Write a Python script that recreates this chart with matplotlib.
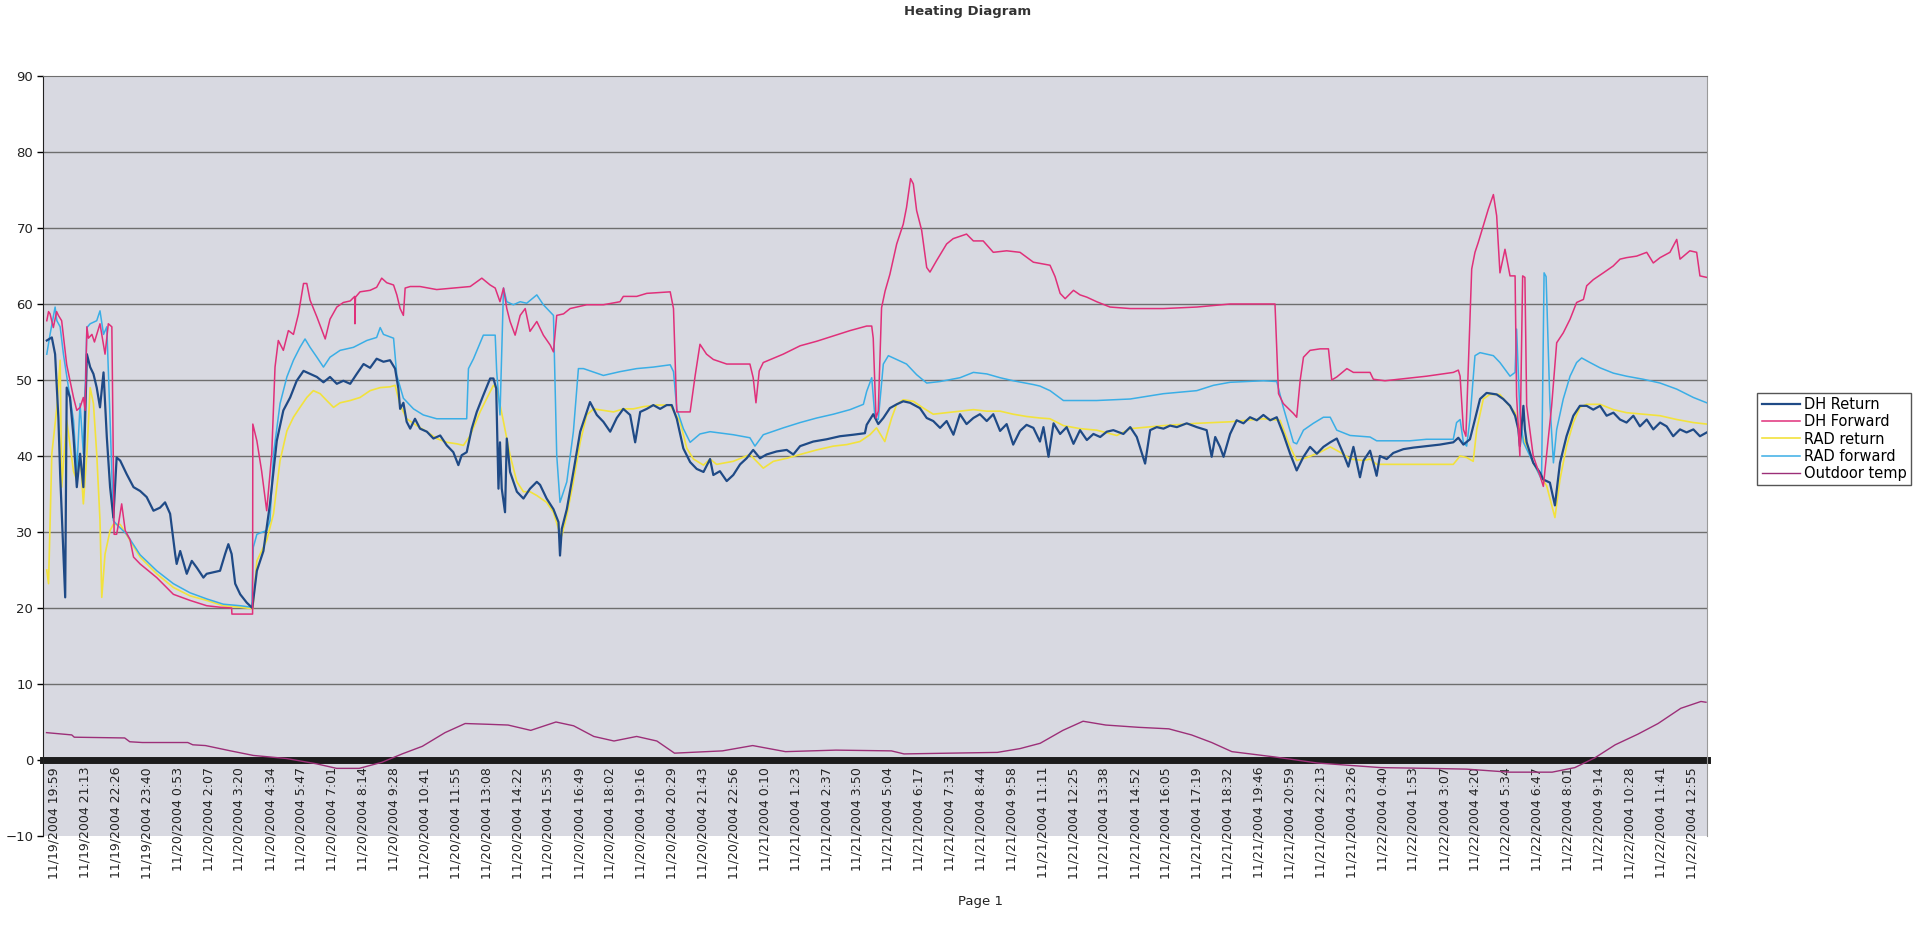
import numpy as np
import pandas as pd
import matplotlib
matplotlib.use("Agg")
import matplotlib.pyplot as plt

# category labels of the time axis (one every 73.5 min)
tick_labels = [
    "11/19/2004 19:59", "11/19/2004 21:13", "11/19/2004 22:26", "11/19/2004 23:40",
    "11/20/2004 0:53", "11/20/2004 2:07", "11/20/2004 3:20", "11/20/2004 4:34",
    "11/20/2004 5:47", "11/20/2004 7:01", "11/20/2004 8:14", "11/20/2004 9:28",
    "11/20/2004 10:41", "11/20/2004 11:55", "11/20/2004 13:08", "11/20/2004 14:22",
    "11/20/2004 15:35", "11/20/2004 16:49", "11/20/2004 18:02", "11/20/2004 19:16",
    "11/20/2004 20:29", "11/20/2004 21:43", "11/20/2004 22:56", "11/21/2004 0:10",
    "11/21/2004 1:23", "11/21/2004 2:37", "11/21/2004 3:50", "11/21/2004 5:04",
    "11/21/2004 6:17", "11/21/2004 7:31", "11/21/2004 8:44", "11/21/2004 9:58",
    "11/21/2004 11:11", "11/21/2004 12:25", "11/21/2004 13:38", "11/21/2004 14:52",
    "11/21/2004 16:05", "11/21/2004 17:19", "11/21/2004 18:32", "11/21/2004 19:46",
    "11/21/2004 20:59", "11/21/2004 22:13", "11/21/2004 23:26", "11/22/2004 0:40",
    "11/22/2004 1:53", "11/22/2004 3:07", "11/22/2004 4:20", "11/22/2004 5:34",
    "11/22/2004 6:47", "11/22/2004 8:01", "11/22/2004 9:14", "11/22/2004 10:28",
    "11/22/2004 11:41", "11/22/2004 12:55",
]

# (hours since 11/19/2004 19:59, temperature)
dh_return = [
    (-0.29, 55.2), (-0.09, 55.6), (0.04, 53.4), (0.17, 45), (0.24, 37.6), (0.44, 21.4), (0.50, 49),
    (0.63, 47.7), (0.77, 42.5), (0.90, 35.9), (1.03, 40.3), (1.16, 35.9), (1.30, 53.4), (1.43, 51.7),
    (1.56, 50.8), (1.69, 49), (1.82, 46.4), (1.96, 51), (2.09, 42.5), (2.22, 35.9), (2.35, 31.9),
    (2.48, 39.8), (2.62, 39.4), (2.88, 37.6), (3.15, 35.9), (3.41, 35.4), (3.67, 34.6), (3.94, 32.8),
    (4.20, 33.2), (4.40, 33.9), (4.60, 32.4), (4.80, 27.1), (4.86, 25.8), (5.00, 27.5), (5.26, 24.5),
    (5.46, 26.2), (5.66, 25.3), (5.92, 24), (6.05, 24.5), (6.32, 24.7), (6.58, 24.9), (6.78, 27.1),
    (6.91, 28.4), (7.04, 27.1), (7.18, 23.2), (7.38, 21.8), (7.64, 20.7), (7.86, 20), (8.04, 24.9),
    (8.30, 27.5), (8.56, 33.7), (8.83, 42), (9.09, 46), (9.36, 47.7), (9.62, 49.9), (9.89, 51.2),
    (10.15, 50.8), (10.42, 50.4), (10.68, 49.7), (10.94, 50.4), (11.21, 49.5), (11.47, 49.9),
    (11.74, 49.5), (12.00, 50.8), (12.27, 52.1), (12.53, 51.6), (12.79, 52.8), (12.93, 52.6),
    (13.06, 52.4), (13.32, 52.6), (13.52, 51.5), (13.65, 48.9), (13.72, 46.2), (13.85, 47),
    (13.98, 44.5), (14.12, 43.6), (14.31, 44.9), (14.51, 43.6), (14.78, 43.2), (15.04, 42.3),
    (15.31, 42.7), (15.57, 41.4), (15.83, 40.5), (16.03, 38.8), (16.16, 40.1), (16.36, 40.5),
    (16.56, 43.6), (16.76, 45.8), (17.02, 48), (17.29, 50.2), (17.42, 50.2), (17.53, 48.9),
    (17.62, 35.7), (17.68, 41.8), (17.75, 35.7), (17.88, 32.6), (17.95, 42.3), (18.08, 37.9),
    (18.35, 35.3), (18.61, 34.4), (18.87, 35.7), (19.14, 36.6), (19.27, 36.2), (19.53, 34.4),
    (19.80, 33), (20.00, 31.3), (20.06, 26.9), (20.13, 30.4), (20.33, 33), (20.59, 37.9),
    (20.86, 43.2), (21.12, 45.8), (21.25, 47.1), (21.52, 45.4), (21.78, 44.5), (22.05, 43.2),
    (22.31, 45), (22.57, 46.2), (22.84, 45.4), (23.04, 41.8), (23.24, 45.8), (23.50, 46.2),
    (23.76, 46.7), (24.03, 46.2), (24.29, 46.7), (24.49, 46.7), (24.69, 44.9), (24.95, 41),
    (25.22, 39.2), (25.48, 38.3), (25.75, 37.9), (26.01, 39.6), (26.14, 37.5), (26.40, 38),
    (26.67, 36.7), (26.93, 37.5), (27.20, 38.9), (27.46, 39.7), (27.72, 40.8), (27.99, 39.7),
    (28.25, 40.2), (28.65, 40.6), (29.05, 40.8), (29.31, 40.2), (29.58, 41.3), (30.10, 41.9),
    (30.63, 42.2), (31.16, 42.6), (31.69, 42.8), (32.15, 43), (32.22, 44.1), (32.48, 45.5),
    (32.68, 44.2), (32.88, 45), (33.14, 46.3), (33.41, 46.8), (33.67, 47.2), (33.94, 47),
    (34.33, 46.3), (34.60, 45), (34.86, 44.6), (35.13, 43.7), (35.39, 44.6), (35.66, 42.8),
    (35.92, 45.5), (36.18, 44.2), (36.45, 45), (36.71, 45.5), (36.98, 44.6), (37.24, 45.5),
    (37.51, 43.3), (37.77, 44.2), (38.03, 41.5), (38.30, 43.3), (38.56, 44.1), (38.83, 43.7),
    (39.09, 41.9), (39.23, 43.8), (39.43, 39.9), (39.63, 44.3), (39.89, 42.9), (40.15, 43.8),
    (40.42, 41.6), (40.68, 43.4), (40.95, 42.1), (41.21, 42.9), (41.48, 42.5), (41.74, 43.2),
    (42.00, 43.4), (42.40, 42.9), (42.67, 43.8), (42.93, 42.5), (43.26, 39), (43.46, 43.4),
    (43.72, 43.8), (43.99, 43.6), (44.25, 44), (44.52, 43.8), (44.91, 44.3), (45.31, 43.8),
    (45.70, 43.4), (45.90, 39.9), (46.04, 42.5), (46.23, 41.2), (46.37, 39.9), (46.63, 42.9),
    (46.89, 44.7), (47.16, 44.3), (47.42, 45.1), (47.69, 44.7), (47.95, 45.4), (48.22, 44.7),
    (48.48, 45.1), (48.74, 42.9), (49.01, 40.3), (49.27, 38.1), (49.54, 39.9), (49.80, 41.2),
    (50.07, 40.3), (50.33, 41.2), (50.60, 41.8), (50.86, 42.3), (51.12, 40.3), (51.32, 38.6),
    (51.52, 41.2), (51.78, 37.2), (51.92, 39.4), (52.18, 40.7), (52.31, 39.1), (52.44, 37.4),
    (52.57, 40), (52.84, 39.6), (53.10, 40.4), (53.50, 40.9), (53.89, 41.1), (54.42, 41.3),
    (54.95, 41.5), (55.48, 41.8), (55.68, 42.4), (55.88, 41.5), (56.14, 42.2), (56.27, 43.9),
    (56.54, 47.5), (56.80, 48.3), (57.20, 48.1), (57.46, 47.5), (57.73, 46.6), (57.93, 45.3),
    (58.06, 43.5), (58.12, 41.3), (58.26, 46.6), (58.32, 43.5), (58.39, 41.8), (58.65, 39.1),
    (58.92, 37.8), (59.05, 36.9), (59.31, 36.5), (59.51, 33.5), (59.71, 39.1), (59.97, 42.6),
    (60.24, 45.3), (60.50, 46.6), (60.77, 46.6), (61.03, 46.1), (61.30, 46.6), (61.56, 45.3),
    (61.83, 45.7), (62.09, 44.8), (62.35, 44.4), (62.62, 45.3), (62.88, 43.9), (63.15, 44.8),
    (63.41, 43.5), (63.68, 44.4), (63.94, 43.9), (64.20, 42.6), (64.47, 43.5), (64.73, 43.1),
    (65.00, 43.5), (65.26, 42.6), (65.53, 43.1),
]

dh_forward = [
    (-0.29, 57.8), (-0.22, 59), (-0.16, 58.7), (-0.03, 56.9), (0.1, 59), (0.17, 58.5), (0.30, 57.8),
    (0.5, 52), (0.77, 47.7), (0.90, 46), (1.03, 46.4), (1.16, 47.7), (1.23, 46), (1.30, 57),
    (1.36, 55.5), (1.5, 56), (1.6, 55), (1.82, 57.4), (1.89, 56), (2.02, 53.4), (2.15, 57.4),
    (2.29, 57), (2.38, 29.7), (2.48, 29.7), (2.55, 31), (2.68, 33.7), (2.82, 30.2), (3.01, 29),
    (3.15, 26.7), (3.41, 25.8), (4.07, 24), (4.73, 21.8), (5.39, 21), (6.05, 20.3), (6.58, 20.1),
    (7.04, 20), (7.05, 19.2), (7.87, 19.2), (7.88, 44.2), (8.04, 42), (8.23, 38), (8.43, 32.8),
    (8.63, 40.3), (8.76, 51.7), (8.89, 55.2), (9.09, 53.9), (9.29, 56.5), (9.49, 56), (9.69, 58.7),
    (9.89, 62.7), (10.02, 62.7), (10.15, 60.5), (10.42, 58.3), (10.75, 55.4), (10.94, 58),
    (11.21, 59.6), (11.47, 60.2), (11.74, 60.4), (11.92, 61), (11.93, 57.4), (11.95, 60.9),
    (12.13, 61.6), (12.53, 61.8), (12.79, 62.2), (12.99, 63.4), (13.19, 62.8), (13.46, 62.5),
    (13.59, 61.2), (13.72, 59.4), (13.85, 58.5), (13.92, 62.1), (14.12, 62.3), (14.51, 62.3),
    (15.17, 61.9), (15.83, 62.1), (16.50, 62.3), (16.96, 63.4), (17.29, 62.5), (17.49, 62.1),
    (17.68, 60.3), (17.82, 62.1), (17.95, 59.4), (18.08, 57.7), (18.28, 55.9), (18.48, 58.5),
    (18.68, 59.4), (18.87, 56.4), (19.14, 57.7), (19.40, 55.9), (19.67, 54.6), (19.80, 53.7),
    (19.93, 58.5), (20.20, 58.7), (20.46, 59.4), (21.12, 59.9), (21.78, 59.9), (22.44, 60.3),
    (22.57, 61), (23.10, 61), (23.50, 61.4), (24.43, 61.6), (24.56, 59.4), (24.69, 45.8),
    (25.22, 45.8), (25.42, 50.6), (25.61, 54.7), (25.87, 53.4), (26.14, 52.7), (26.67, 52.1),
    (27.59, 52.1), (27.72, 50.3), (27.83, 47), (27.96, 51.2), (28.12, 52.3), (28.91, 53.4),
    (29.58, 54.5), (30.24, 55.1), (30.90, 55.8), (31.56, 56.5), (32.22, 57.1), (32.42, 57.1),
    (32.48, 55.5), (32.59, 45), (32.68, 45.9), (32.81, 59.5), (32.95, 61.7), (33.14, 63.9),
    (33.41, 67.9), (33.67, 70.5), (33.80, 72.7), (33.96, 76.5), (34.07, 75.8), (34.20, 72.3),
    (34.40, 69.7), (34.60, 64.8), (34.73, 64.2), (34.99, 65.7), (35.39, 67.9), (35.65, 68.6),
    (36.18, 69.2), (36.45, 68.3), (36.84, 68.3), (37.24, 66.8), (37.77, 67), (38.30, 66.8),
    (38.83, 65.5), (39.49, 65.1), (39.69, 63.6), (39.89, 61.4), (40.09, 60.7), (40.42, 61.8),
    (40.68, 61.2), (40.95, 60.9), (41.34, 60.3), (41.87, 59.6), (42.67, 59.4), (43.99, 59.4),
    (45.31, 59.6), (46.63, 60), (48.41, 60), (48.55, 48.2), (48.74, 46.9), (49.14, 45.6),
    (49.27, 45.1), (49.41, 50), (49.54, 53), (49.80, 53.9), (50.20, 54.1), (50.53, 54.1),
    (50.66, 50), (50.86, 50.4), (51.26, 51.5), (51.52, 51), (52.18, 51), (52.31, 50.1),
    (52.77, 49.9), (53.89, 50.3), (54.42, 50.5), (55.48, 51), (55.68, 51.3), (55.75, 50.5),
    (55.88, 43.5), (55.98, 42.6), (56.08, 52.3), (56.21, 64.6), (56.34, 66.8), (56.47, 68.1),
    (56.67, 70.3), (56.87, 72.5), (57.07, 74.4), (57.20, 71.6), (57.33, 64.1), (57.53, 67.2),
    (57.73, 63.7), (57.93, 63.7), (57.99, 47.9), (58.12, 40), (58.23, 63.7), (58.32, 63.5),
    (58.39, 46.6), (58.65, 40), (58.92, 37.4), (59.05, 36), (59.38, 46.6), (59.58, 54.9),
    (59.84, 56.2), (60.11, 58), (60.37, 60.2), (60.64, 60.6), (60.77, 62.4), (61.03, 63.2),
    (61.43, 64.1), (61.82, 65), (62.09, 65.9), (62.35, 66.1), (62.75, 66.3), (63.15, 66.8),
    (63.41, 65.4), (63.68, 66.1), (64.07, 66.8), (64.34, 68.5), (64.47, 65.9), (64.86, 67),
    (65.13, 66.8), (65.26, 63.7), (65.53, 63.5),
]

rad_return = [
    (-0.29, 25), (-0.22, 23.2), (-0.09, 40.3), (0.11, 46.4), (0.24, 52.6), (0.30, 35.9), (0.50, 44.7),
    (0.77, 38), (0.90, 36.8), (1.03, 40.3), (1.16, 33.7), (1.30, 40.3), (1.43, 49), (1.56, 46.9),
    (1.69, 40.3), (1.82, 31.5), (1.89, 21.4), (2.02, 27.1), (2.22, 30.2), (2.35, 31), (2.62, 31),
    (3.41, 26.7), (4.07, 24.5), (4.73, 22.7), (5.39, 21.6), (6.05, 21), (6.71, 20.3), (7.38, 20.1),
    (7.88, 19.9), (8.04, 26.2), (8.43, 28.9), (8.70, 32.4), (8.96, 39.4), (9.23, 43.3), (9.49, 45.1),
    (9.75, 46.4), (10.02, 47.7), (10.28, 48.6), (10.55, 48.2), (10.81, 47.3), (11.08, 46.4),
    (11.34, 47), (11.74, 47.3), (12.13, 47.7), (12.53, 48.6), (12.93, 49), (13.32, 49.1),
    (13.52, 49.3), (13.72, 46.7), (13.98, 44.9), (14.38, 44), (14.78, 43.2), (15.17, 42.3),
    (15.57, 41.8), (15.97, 41.6), (16.23, 41.4), (16.50, 42.7), (16.89, 45.8), (17.16, 47.6),
    (17.42, 49.3), (17.55, 48.9), (17.82, 44.5), (18.08, 40.1), (18.35, 36.6), (18.61, 35.3),
    (18.87, 35.3), (19.14, 34.8), (19.53, 33.9), (19.80, 32.6), (20.00, 30.4), (20.13, 29.5),
    (20.33, 32.2), (20.59, 36.6), (20.86, 41.8), (21.12, 45.4), (21.39, 46.2), (21.78, 46),
    (22.18, 45.8), (22.57, 46.2), (22.97, 46.2), (23.37, 46.5), (23.90, 46.7), (24.43, 46.7),
    (24.82, 44.5), (25.09, 41), (25.35, 39.6), (25.75, 38.8), (26.01, 39.6), (26.27, 38.9),
    (26.93, 39.3), (27.59, 40.2), (28.12, 38.4), (28.52, 39.3), (29.05, 39.7), (29.58, 40.2),
    (30.24, 40.8), (30.90, 41.3), (31.43, 41.5), (31.95, 41.9), (32.35, 42.8), (32.61, 43.7),
    (32.94, 41.9), (33.21, 45), (33.41, 46.8), (33.67, 47.4), (34.07, 47.2), (34.47, 46.3),
    (34.86, 45.5), (35.39, 45.7), (35.92, 45.9), (36.45, 46.1), (36.98, 45.9), (37.51, 45.9),
    (38.03, 45.5), (38.56, 45.2), (39.09, 45), (39.49, 44.9), (40.02, 44), (40.68, 43.6),
    (41.34, 43.4), (42.14, 42.7), (42.67, 43.6), (43.99, 44), (45.31, 44.3), (46.63, 44.5),
    (47.95, 44.9), (48.61, 44.7), (49.01, 41.2), (49.27, 39.4), (49.67, 39.8), (50.20, 40.5),
    (50.60, 41.2), (50.99, 40.5), (51.39, 39.6), (51.92, 39.4), (52.18, 39.6), (52.44, 38.9),
    (53.10, 38.9), (54.42, 38.9), (55.48, 38.9), (55.75, 40), (56.01, 39.8), (56.27, 39.3),
    (56.41, 43.5), (56.67, 47.5), (56.93, 48.1), (57.33, 48.1), (57.60, 47), (57.93, 45.7),
    (58.12, 43.5), (58.39, 41.3), (58.65, 39.1), (58.92, 37.4), (59.18, 36.1), (59.51, 31.9),
    (59.71, 36.9), (59.97, 41.3), (60.24, 44.4), (60.50, 46.4), (60.77, 46.8), (61.30, 46.8),
    (61.83, 46.1), (62.35, 45.7), (63.01, 45.5), (63.68, 45.3), (64.34, 44.8), (65.00, 44.4),
    (65.53, 44.2),
]

rad_forward = [
    (-0.29, 53.4), (-0.16, 56), (0.04, 59.6), (0.11, 57.8), (0.24, 57), (0.37, 53.4), (0.57, 49),
    (0.77, 44.7), (0.90, 38), (1.03, 46.9), (1.16, 40.3), (1.30, 56.9), (1.43, 57.4), (1.69, 57.8),
    (1.82, 59.1), (1.96, 56), (2.09, 57), (2.22, 44.7), (2.35, 31.5), (2.48, 31), (2.88, 29.7),
    (3.41, 27), (4.07, 24.9), (4.73, 23.2), (5.39, 22), (6.05, 21.2), (6.71, 20.5), (7.38, 20.3),
    (7.84, 20.1), (7.90, 28), (8.04, 29.7), (8.43, 30.2), (8.56, 31.5), (8.70, 40.3), (8.96, 46.9),
    (9.23, 50.4), (9.49, 52.6), (9.75, 54.3), (9.95, 55.4), (10.15, 54.3), (10.42, 53), (10.68, 51.7),
    (10.94, 53), (11.34, 53.9), (11.87, 54.3), (12.40, 55.2), (12.79, 55.6), (12.93, 56.9),
    (13.06, 56), (13.46, 55.5), (13.59, 50.6), (13.85, 47.6), (14.25, 46.2), (14.64, 45.4),
    (15.17, 44.9), (16.36, 44.9), (16.43, 51.5), (16.63, 52.8), (17.02, 55.9), (17.49, 55.9),
    (17.55, 51.1), (17.68, 45.4), (17.82, 62.1), (17.95, 60.3), (18.21, 59.9), (18.48, 60.3),
    (18.74, 60.1), (19.14, 61.2), (19.40, 59.9), (19.80, 58.5), (19.93, 40.1), (20.06, 33.9),
    (20.33, 36.6), (20.59, 43.2), (20.79, 51.5), (20.99, 51.5), (21.78, 50.6), (22.44, 51.1),
    (23.10, 51.5), (23.76, 51.7), (24.43, 52), (24.56, 51.1), (24.69, 46.2), (24.95, 43.6),
    (25.22, 41.8), (25.61, 42.9), (26.01, 43.2), (26.93, 42.8), (27.59, 42.4), (27.79, 41.3),
    (28.12, 42.8), (28.91, 43.7), (29.58, 44.4), (30.24, 45), (30.90, 45.5), (31.56, 46.1),
    (32.09, 46.8), (32.22, 48.5), (32.42, 50.3), (32.55, 45), (32.68, 44.8), (32.88, 52.1),
    (33.08, 53.2), (33.54, 52.5), (33.80, 52.1), (34.20, 50.7), (34.60, 49.6), (35.13, 49.8),
    (35.92, 50.3), (36.45, 51), (36.98, 50.8), (37.51, 50.3), (38.03, 49.9), (38.83, 49.4),
    (39.09, 49.2), (39.49, 48.6), (40.02, 47.3), (41.34, 47.3), (42.67, 47.5), (43.99, 48.2),
    (45.31, 48.6), (45.97, 49.3), (46.63, 49.7), (47.95, 49.9), (48.48, 49.8), (48.74, 46.4),
    (49.14, 41.8), (49.27, 41.6), (49.54, 43.4), (49.93, 44.3), (50.33, 45.1), (50.60, 45.1),
    (50.86, 43.4), (51.39, 42.7), (52.18, 42.5), (52.44, 42), (53.76, 42), (54.42, 42.2),
    (55.48, 42.2), (55.61, 44.4), (55.75, 44.8), (55.88, 41.8), (56.01, 41.3), (56.14, 44.8),
    (56.34, 53.2), (56.54, 53.6), (57.07, 53.2), (57.33, 52.3), (57.73, 50.5), (57.93, 51),
    (57.99, 56.7), (58.12, 45.7), (58.26, 41.8), (58.52, 40), (58.79, 38.2), (58.98, 36.9),
    (59.08, 64.1), (59.16, 63.6), (59.31, 47), (59.45, 39.1), (59.58, 43.5), (59.84, 47.5),
    (60.11, 50.5), (60.37, 52.3), (60.57, 52.9), (60.90, 52.3), (61.30, 51.6), (61.83, 50.9),
    (62.35, 50.5), (63.01, 50.1), (63.68, 49.6), (64.34, 48.8), (65.00, 47.7), (65.53, 47),
]

outdoor_temp = [
    (-0.3, 3.6), (0.7, 3.3), (0.8, 3.0), (2.8, 2.9), (3.0, 2.4), (3.5, 2.3), (5.3, 2.3), (5.5, 2.0),
    (6.0, 1.9), (7.0, 1.2), (7.9, 0.6), (9.2, 0.2), (10.4, -0.5), (11.2, -1.1), (12.1, -1.1),
    (13.0, -0.3), (13.8, 0.8), (14.6, 1.8), (15.5, 3.6), (16.3, 4.8), (17.2, 4.7), (18.0, 4.6),
    (18.9, 3.9), (19.9, 5.0), (20.6, 4.5), (21.4, 3.1), (22.2, 2.5), (23.1, 3.1), (23.9, 2.5),
    (24.6, 0.9), (26.5, 1.2), (27.7, 1.9), (29.0, 1.1), (31.0, 1.3), (33.2, 1.2), (33.7, 0.8),
    (35.5, 0.9), (37.4, 1.0), (38.3, 1.5), (39.1, 2.2), (40.0, 3.9), (40.8, 5.1), (41.7, 4.6),
    (43.0, 4.3), (44.2, 4.1), (45.1, 3.3), (45.9, 2.3), (46.7, 1.1), (48.4, 0.4), (50.1, -0.4),
    (52.6, -1.0), (54.5, -1.1), (56.0, -1.2), (57.7, -1.6), (59.4, -1.6), (60.3, -1.0),
    (61.1, 0.3), (61.9, 2.0), (62.8, 3.4), (63.6, 4.8), (64.5, 6.8), (65.3, 7.7), (65.5, 7.6),
]

t = pd.to_datetime(tick_labels, format="%m/%d/%Y %H:%M")
tick_hours = (t - t[0]) / pd.Timedelta(hours=1)

W, H = 1921, 952
fig = plt.figure(figsize=(W / 100, H / 100), dpi=100)
fig.patch.set_facecolor("white")
ax = fig.add_axes([43 / W, 1 - 836 / H, (1707 - 43) / W, (836 - 76) / H])
ax.set_facecolor("#d8d9e1")

# category axis crosses at 0; dense tick marks there show as a black band
ax.spines["bottom"].set_position(("data", 0))
ax.spines["bottom"].set_linewidth(5)
ax.spines["bottom"].set_color("#1c1c1c")
ax.spines["bottom"].set_zorder(2)
ax.spines["top"].set_color("#6e6e6e")
ax.spines["right"].set_color("#9a9a9a")
ax.spines["left"].set_color("#222222")

styles = [
    ("DH Return", dh_return, "#1f4a86", 1.6, 5),
    ("DH Forward", dh_forward, "#e0307a", 1.1, 6),
    ("RAD return", rad_return, "#f2e23c", 1.2, 3),
    ("RAD forward", rad_forward, "#3aaee6", 1.1, 4),
    ("Outdoor temp", outdoor_temp, "#9c2f78", 1.0, 7),
]
for name, pts, col, lw, z in styles:
    arr = np.array(pts)
    ax.plot(arr[:, 0], arr[:, 1], color=col, lw=lw, zorder=z, label=name)

for v in range(10, 90, 10):
    ax.axhline(v, color="#6e6e6e", lw=1.0, zorder=1)

ax.set_xlim(-0.44, 65.54)
ax.set_ylim(-10, 90)
ax.set_yticks(range(-10, 91, 10))
ax.set_xticks(tick_hours)
ax.set_xticklabels(tick_labels, fontsize=9, color="#222222")
ax.tick_params(axis="x", length=0, pad=5, labelrotation=90)
ax.tick_params(axis="y", length=4, width=1, pad=3, labelsize=9.5, labelcolor="#222222")

fig.text(968 / W, 1 - 12 / H, "Heating Diagram", ha="center", va="center",
         fontsize=9.5, fontweight="bold", color="#333333")
fig.text(980 / W, 1 - 902 / H, "Page 1", ha="center", va="center", fontsize=9.5, color="#222222")

fig.legend(loc="center left", bbox_to_anchor=(1750 / W, 1 - 439 / H), fontsize=10.5,
           handlelength=2.6, handletextpad=0.3, labelspacing=0.15, borderpad=0.3,
           fancybox=False, edgecolor="#555555", framealpha=1)

fig.savefig("out.png", dpi=100, facecolor="white")
